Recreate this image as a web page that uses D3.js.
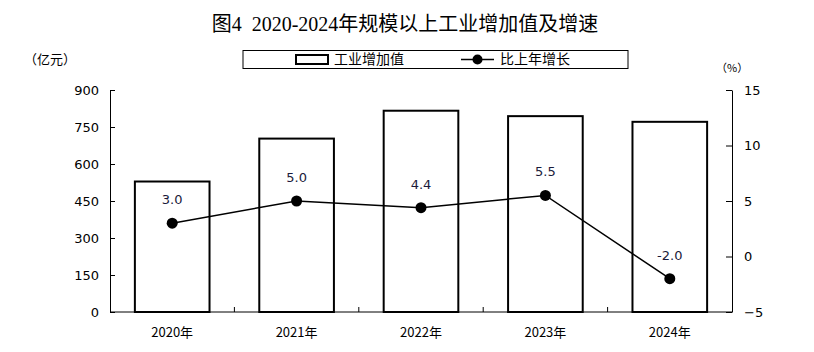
<!DOCTYPE html>
<html>
<head>
<meta charset="utf-8">
<script src="https://cdn.jsdelivr.net/npm/d3@7"></script>
<style>
  body { margin: 0; background: #fff; }
  text { font-family: "Noto Sans CJK SC", "DejaVu Sans", sans-serif; }
</style>
</head>
<body>
<div id="chart"></div>
<script>
//Chart data.
const years = ["2020年", "2021年", "2022年", "2023年", "2024年"];
const addedValue = [529, 703, 816, 794, 771];
const growth = [3.0, 5.0, 4.4, 5.5, -2.0];
const leftTicks = [0, 150, 300, 450, 600, 750, 900];
const rightTicks = [-5, 0, 5, 10, 15];

const width = 814;
const height = 352;
const margin = { top: 90, right: 82, bottom: 40, left: 110 };

const svg = d3.select("#chart")
  .append("svg")
  .attr("width", width)
  .attr("height", height);

//Scales.
const xScale = d3.scaleBand()
  .domain(years)
  .range([margin.left, width - margin.right])
  .paddingInner(0.4)
  .paddingOuter(0.2);

const yLeft = d3.scaleLinear()
  .domain([0, 900])
  .range([height - margin.bottom, margin.top]);

const yRight = d3.scaleLinear()
  .domain([-5, 15])
  .range([height - margin.bottom, margin.top]);

//Title.
svg.append("text")
  .attr("x", 405)
  .attr("y", 31)
  .attr("text-anchor", "middle")
  .style("font-family", "'Liberation Serif', 'Noto Sans CJK SC', serif")
  .style("font-size", "20px")
  .text("图4\u00a0\u00a02020-2024年规模以上工业增加值及增速");

//Unit labels.
svg.append("text")
  .attr("x", 24)
  .attr("y", 64)
  .style("font-size", "13px")
  .text("（亿元）");

svg.append("text")
  .attr("x", 716)
  .attr("y", 72)
  .style("font-size", "11px")
  .text("（%）");

//Legend.
const legend = svg.append("g");
legend.append("rect")
  .attr("x", 243).attr("y", 50.5)
  .attr("width", 385).attr("height", 18)
  .attr("fill", "none").attr("stroke", "#000").attr("stroke-width", 1);
legend.append("rect")
  .attr("x", 296).attr("y", 55)
  .attr("width", 32).attr("height", 9)
  .attr("fill", "none").attr("stroke", "#000").attr("stroke-width", 2);
legend.append("text")
  .attr("x", 334).attr("y", 64)
  .style("font-size", "14px")
  .text("工业增加值");
legend.append("line")
  .attr("x1", 461).attr("x2", 494).attr("y1", 59.5).attr("y2", 59.5)
  .attr("stroke", "#000").attr("stroke-width", 1.5);
legend.append("circle")
  .attr("cx", 477.5).attr("cy", 59.5).attr("r", 5);
legend.append("text")
  .attr("x", 500).attr("y", 64)
  .style("font-size", "14px")
  .text("比上年增长");

//Bars.
svg.selectAll(".bar")
  .data(addedValue)
  .enter()
  .append("rect")
  .attr("class", "bar")
  .attr("x", (d, i) => xScale(years[i]))
  .attr("y", d => yLeft(d))
  .attr("width", xScale.bandwidth())
  .attr("height", d => yLeft(0) - yLeft(d))
  .attr("fill", "#fff")
  .attr("stroke", "#000")
  .attr("stroke-width", 2);

//Left axis.
const leftAxis = svg.append("g")
  .attr("transform", `translate(${margin.left},0)`)
  .call(d3.axisLeft(yLeft).tickValues(leftTicks).tickSizeInner(-5).tickSizeOuter(0).tickPadding(11));

//Right axis.
const rightAxis = svg.append("g")
  .attr("transform", `translate(${width - margin.right},0)`)
  .call(d3.axisRight(yRight).tickValues(rightTicks).tickSizeInner(-6).tickSizeOuter(0).tickPadding(12)
    .tickFormat(d => d < 0 ? "\u2212" + Math.abs(d) : d));

//Bottom axis with ticks between categories.
const bottom = svg.append("g")
  .attr("transform", `translate(0,${height - margin.bottom})`);
bottom.append("line")
  .attr("x1", margin.left).attr("x2", width - margin.right)
  .attr("stroke", "#000");
const gap = (xScale.step() - xScale.bandwidth()) / 2;
bottom.selectAll(".sep")
  .data(years.slice(1))
  .enter()
  .append("line")
  .attr("x1", d => xScale(d) - gap)
  .attr("x2", d => xScale(d) - gap)
  .attr("y1", 0).attr("y2", -5)
  .attr("stroke", "#000");
bottom.selectAll(".lab")
  .data(years)
  .enter()
  .append("text")
  .attr("x", d => xScale(d) + xScale.bandwidth() / 2)
  .attr("y", 25)
  .attr("text-anchor", "middle")
  .style("font-size", "13px")
  .text(d => d);

[leftAxis, rightAxis].forEach(g => {
  g.select(".domain").attr("stroke", "#000");
  g.selectAll(".tick line").attr("stroke", "#000");
  g.selectAll(".tick text").style("font-size", "13px").attr("fill", "#000")
    .style("font-family", "'DejaVu Sans', sans-serif");
});

//Growth line.
const cx = i => xScale(years[i]) + xScale.bandwidth() / 2;
const line = d3.line()
  .x((d, i) => cx(i))
  .y(d => yRight(d));

svg.append("path")
  .datum(growth)
  .attr("d", line)
  .attr("fill", "none")
  .attr("stroke", "#000")
  .attr("stroke-width", 1.5);

svg.selectAll(".dot")
  .data(growth)
  .enter()
  .append("circle")
  .attr("cx", (d, i) => cx(i))
  .attr("cy", d => yRight(d))
  .attr("r", 5.5)
  .attr("fill", "#000");

svg.selectAll(".val")
  .data(growth)
  .enter()
  .append("text")
  .attr("x", (d, i) => cx(i))
  .attr("y", d => yRight(d) - 19)
  .attr("text-anchor", "middle")
  .style("font-size", "13px")
  .style("font-family", "'DejaVu Sans', sans-serif")
  .attr("fill", "#1a1a3a")
  .text(d => d.toFixed(1));
</script>
</body>
</html>
